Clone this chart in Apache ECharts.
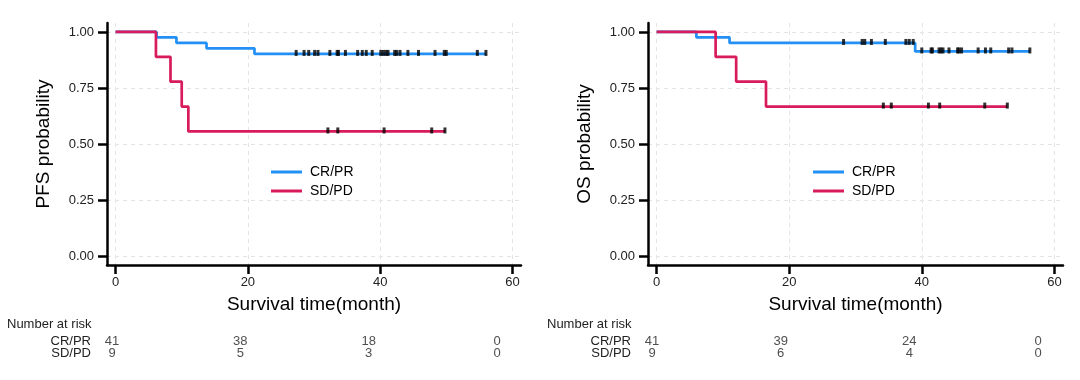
<!DOCTYPE html>
<html><head><meta charset="utf-8">
<script src="https://cdn.jsdelivr.net/npm/echarts@6/dist/echarts.min.js"></script>
<style>html,body{margin:0;padding:0;background:#fff}#c{width:1080px;height:380px}</style>
</head><body><div id="c"></div>
<script>
const groups = ['CR/PR', 'SD/PD'];
const xTicks = [0, 20, 40, 60];
const yTicks = [0, 0.25, 0.5, 0.75, 1];

// PFS curves (time in months, survival probability)
const pfsCrprTimes = [0, 6.2, 9.2, 13.75, 21.0, 56.0];
const pfsCrprSurv  = [1, 0.976, 0.951, 0.927, 0.902, 0.902];
const pfsCrprCensor = [27.3, 28.5, 29.2, 30.1, 30.6, 32.4, 33.5, 33.7, 34.75, 36.6, 37.3, 37.9, 38.8, 40.1, 40.5, 40.9, 41.2, 42.2, 42.5, 43.0, 44.2, 45.8, 48.3, 49.7, 50.0, 54.7, 56.0];
const pfsSdpdTimes = [0, 6.1, 8.3, 10.0, 11.0, 49.8];
const pfsSdpdSurv  = [1, 0.889, 0.778, 0.667, 0.556, 0.556];
const pfsSdpdCensor = [32.1, 33.6, 40.6, 47.8, 49.8];

// OS curves
const osCrprTimes = [0, 6.0, 11.0, 39.0, 56.3];
const osCrprSurv  = [1, 0.976, 0.951, 0.913, 0.913];
const osCrprCensor = [28.2, 31.0, 31.4, 32.4, 34.5, 37.6, 38.1, 38.7, 40.0, 41.4, 41.6, 42.6, 42.9, 43.2, 44.1, 45.4, 45.6, 46.0, 48.5, 49.6, 50.4, 53.1, 53.6, 56.3];
const osSdpdTimes = [0, 8.9, 12.0, 16.5, 52.9];
const osSdpdSurv  = [1, 0.889, 0.778, 0.667, 0.667];
const osSdpdCensor = [34.2, 35.4, 41.0, 42.7, 49.5, 52.9];

// Number at risk
const riskTimes = [0, 20, 40, 60];
const pfsRiskCrpr = [41, 38, 18, 0];
const pfsRiskSdpd = [9, 5, 3, 0];
const osRiskCrpr = [41, 39, 24, 0];
const osRiskSdpd = [9, 6, 4, 0];

const BLUE = '#2390F5';
const RED = '#D81B5C';
const FONT = 'Liberation Sans, Arial, sans-serif';

function survAt(times, surv, t) {
  let v = surv[0];
  for (let i = 0; i < times.length; i++) { if (times[i] <= t) v = surv[i]; }
  return v;
}

function kmX(gi) {
  return {
    type: 'value', gridIndex: gi, min: -1.3, max: 61.3,
    axisLine: { show: true, onZero: false, lineStyle: { color: '#000', width: 2.5 } },
    axisTick: { show: true, length: 9, customValues: xTicks, lineStyle: { color: '#000', width: 2.5 } },
    axisLabel: { customValues: xTicks, margin: 11, fontSize: 13, color: '#222', fontFamily: FONT },
    splitLine: { show: true, lineStyle: { color: '#e4e4e4', type: [4, 4], width: 1 } },
    name: 'Survival time(month)', nameLocation: 'middle', nameGap: 30,
    nameTextStyle: { fontSize: 19, color: '#000', fontFamily: FONT }
  };
}
function kmY(gi, title) {
  return {
    type: 'value', gridIndex: gi, min: -0.04, max: 1.04,
    axisLine: { show: true, onZero: false, lineStyle: { color: '#000', width: 2.5 } },
    axisTick: { show: true, length: 9, customValues: yTicks, lineStyle: { color: '#000', width: 2.5 } },
    axisLabel: { customValues: yTicks, margin: 13, fontSize: 13, color: '#222', fontFamily: FONT,
      formatter: v => Number(v).toFixed(2) },
    splitLine: { show: true, lineStyle: { color: '#e4e4e4', type: [4, 4], width: 1 } },
    name: title, nameLocation: 'middle', nameGap: 54, nameRotate: 90,
    nameTextStyle: { fontSize: 19, color: '#000', fontFamily: FONT }
  };
}
function riskX(gi) {
  return { type: 'value', gridIndex: gi, min: 0, max: 60, show: false };
}
function riskY(gi) {
  return {
    type: 'category', gridIndex: gi, data: groups, inverse: true,
    axisLine: { show: false }, axisTick: { show: false }, splitLine: { show: false },
    axisLabel: { interval: 0, hideOverlap: false, margin: 21, fontSize: 13, color: '#222', fontFamily: FONT }
  };
}
function stepLine(name, times, surv, ai, color) {
  return {
    name: name, type: 'line', step: 'end', xAxisIndex: ai, yAxisIndex: ai,
    data: times.map((t, i) => [t, surv[i]]), showSymbol: false, symbol: 'none',
    lineStyle: { color: color, width: 2.7 }, itemStyle: { color: color }, z: 3
  };
}
function censor(times, surv, cens, ai) {
  return {
    name: 'censor', type: 'scatter', xAxisIndex: ai, yAxisIndex: ai,
    data: cens.map(t => [t, survAt(times, surv, t)]),
    symbol: 'rect', symbolSize: [3, 6], symbolOffset: [0, -1], itemStyle: { color: '#000' }, z: 5
  };
}
function riskRow(ai, group, counts) {
  return {
    name: 'risk', type: 'scatter', xAxisIndex: ai, yAxisIndex: ai,
    data: riskTimes.map((t, i) => [t, group, counts[i]]),
    symbolSize: 1, itemStyle: { color: 'rgba(0,0,0,0)' },
    label: { show: true, position: 'inside', formatter: p => String(p.value[2]),
      fontSize: 13, color: '#222', fontFamily: FONT }
  };
}

const chart = echarts.init(document.getElementById('c'), null, { renderer: 'canvas' });
chart.setOption({
  animation: false,
  backgroundColor: '#fff',
  textStyle: { fontFamily: FONT },
  title: [
    { text: 'Number at risk', left: 7, top: 318, padding: 0,
      textStyle: { fontSize: 13, fontWeight: 'normal', color: '#222', fontFamily: FONT } },
    { text: 'Number at risk', left: 547, top: 318, padding: 0,
      textStyle: { fontSize: 13, fontWeight: 'normal', color: '#222', fontFamily: FONT } }
  ],
  legend: [
    { left: 271, top: 165, padding: 0, orient: 'vertical', itemWidth: 31, itemHeight: 3, itemGap: 5,
      icon: 'rect', data: groups, textStyle: { fontSize: 14, color: '#000', padding: [0, 0, 0, 3] } },
    { left: 813, top: 165, padding: 0, orient: 'vertical', itemWidth: 31, itemHeight: 3, itemGap: 5,
      icon: 'rect', data: groups, textStyle: { fontSize: 14, color: '#000', padding: [0, 0, 0, 3] } }
  ],
  grid: [
    { left: 107, top: 23, width: 414, height: 242 },
    { left: 648, top: 23, width: 415, height: 242 },
    { left: 112, top: 335, width: 385, height: 25 },
    { left: 652, top: 335, width: 386, height: 25 }
  ],
  xAxis: [kmX(0), kmX(1), riskX(2), riskX(3)],
  yAxis: [kmY(0, 'PFS probability'), kmY(1, 'OS probability'), riskY(2), riskY(3)],
  series: [
    stepLine('CR/PR', pfsCrprTimes, pfsCrprSurv, 0, BLUE),
    stepLine('SD/PD', pfsSdpdTimes, pfsSdpdSurv, 0, RED),
    censor(pfsCrprTimes, pfsCrprSurv, pfsCrprCensor, 0),
    censor(pfsSdpdTimes, pfsSdpdSurv, pfsSdpdCensor, 0),
    stepLine('CR/PR', osCrprTimes, osCrprSurv, 1, BLUE),
    stepLine('SD/PD', osSdpdTimes, osSdpdSurv, 1, RED),
    censor(osCrprTimes, osCrprSurv, osCrprCensor, 1),
    censor(osSdpdTimes, osSdpdSurv, osSdpdCensor, 1),
    riskRow(2, 'CR/PR', pfsRiskCrpr),
    riskRow(2, 'SD/PD', pfsRiskSdpd),
    riskRow(3, 'CR/PR', osRiskCrpr),
    riskRow(3, 'SD/PD', osRiskSdpd)
  ]
});
</script>
</body></html>
